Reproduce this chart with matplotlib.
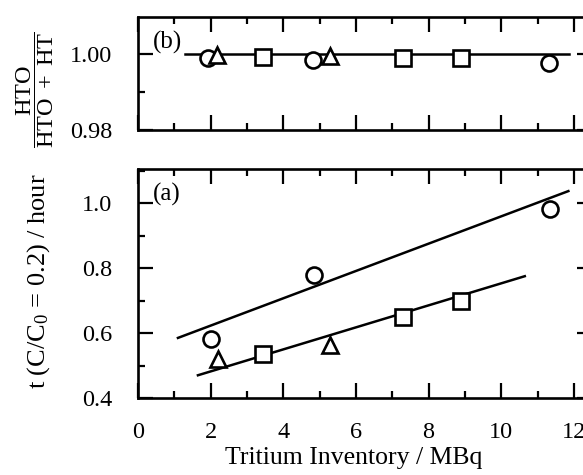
import matplotlib
matplotlib.use("Agg")
import matplotlib.pyplot as plt
from matplotlib.ticker import MultipleLocator

plt.rcParams['font.family'] = ['Liberation Serif', 'DejaVu Serif']
plt.rcParams['mathtext.fontset'] = 'custom'
plt.rcParams['mathtext.rm'] = 'Liberation Serif'
plt.rcParams['mathtext.it'] = 'Liberation Serif:italic'
plt.rcParams['font.size'] = 17.5

# (a) time to reach C/C0 = 0.2
a_circ_x = [2.0, 4.85, 11.35]
a_circ_y = [0.582, 0.778, 0.981]
a_sq_x = [3.45, 7.3, 8.9]
a_sq_y = [0.537, 0.649, 0.698]
a_tri_x = [2.2, 5.28]
a_tri_y = [0.52, 0.563]
a_fit1_x = [1.1, 11.85]
a_fit1_y = [0.585, 1.037]
a_fit2_x = [1.65, 10.65]
a_fit2_y = [0.47, 0.775]

# (b) HTO fraction
b_circ_x = [1.93, 4.82, 11.32]
b_circ_y = [0.9988, 0.9985, 0.9976]
b_sq_x = [3.45, 7.3, 8.9]
b_sq_y = [0.9991, 0.999, 0.999]
b_tri_x = [2.18, 5.29]
b_tri_y = [0.9996, 0.9995]
b_fit_x = [1.3, 11.87]
b_fit_y = [1.0, 1.0]

mk = dict(ls='none', mfc='white', mec='black', mew=1.9, ms=11.5, zorder=3)

fig = plt.figure(figsize=(5.83, 4.75), dpi=100)
axb = fig.add_axes([0.2367, 0.7263, 0.7787, 0.2379])
axa = fig.add_axes([0.2367, 0.1621, 0.7787, 0.4821])

for ax in (axa, axb):
    ax.set_xlim(0, 12.5)
    ax.xaxis.set_major_locator(MultipleLocator(2))
    ax.xaxis.set_minor_locator(MultipleLocator(1))
    ax.tick_params(which='both', direction='in', top=True, right=True, width=1.6)
    ax.tick_params(axis='x', pad=17)
    ax.tick_params(axis='y', pad=18.5)
    ax.tick_params(which='major', length=11)
    ax.tick_params(which='minor', length=5)
    for s in ax.spines.values():
        s.set_linewidth(1.9)

axb.plot(b_fit_x, b_fit_y, color='black', lw=1.8, zorder=2)
axb.plot(b_circ_x, b_circ_y, marker='o', **mk)
axb.plot(b_sq_x, b_sq_y, marker='s', **mk)
axb.plot(b_tri_x, b_tri_y, marker='^', **mk)
axb.set_ylim(0.98, 1.0097)
axb.set_yticks([0.98, 1.00])
axb.set_yticklabels(['0.98', '1.00'])
axb.yaxis.set_minor_locator(MultipleLocator(0.01))
axb.tick_params(axis='x', labelbottom=False)
axb.text(0.4, 1.003, '(b)', ha='left', va='center', fontsize=18)

axa.plot(a_fit1_x, a_fit1_y, color='black', lw=1.8, zorder=2)
axa.plot(a_fit2_x, a_fit2_y, color='black', lw=1.8, zorder=2)
axa.plot(a_circ_x, a_circ_y, marker='o', **mk)
axa.plot(a_sq_x, a_sq_y, marker='s', **mk)
axa.plot(a_tri_x, a_tri_y, marker='^', **mk)
axa.set_ylim(0.4, 1.105)
axa.set_yticks([0.4, 0.6, 0.8, 1.0])
axa.set_yticklabels(['0.4', '0.6', '0.8', '1.0'])
axa.yaxis.set_minor_locator(MultipleLocator(0.1))
axa.set_xticks([0, 2, 4, 6, 8, 10, 12])
axa.text(0.4, 1.028, '(a)', ha='left', va='center', fontsize=18)
axa.set_xlabel('Tritium Inventory / MBq', fontsize=18.5)
axa.xaxis.set_label_coords(0.476, -0.214)

fig.text(0.066, 0.4074, r't (C/C$_0$ = 0.2) / hour', rotation=90,
         ha='center', va='center', fontsize=19)
fig.text(0.061, 0.8105, r'$\dfrac{\mathrm{HTO}}{\mathrm{HTO}\ +\ \mathrm{HT}}$', rotation=90,
         ha='center', va='center', fontsize=17.5)

fig.savefig('out.png', dpi=100)
